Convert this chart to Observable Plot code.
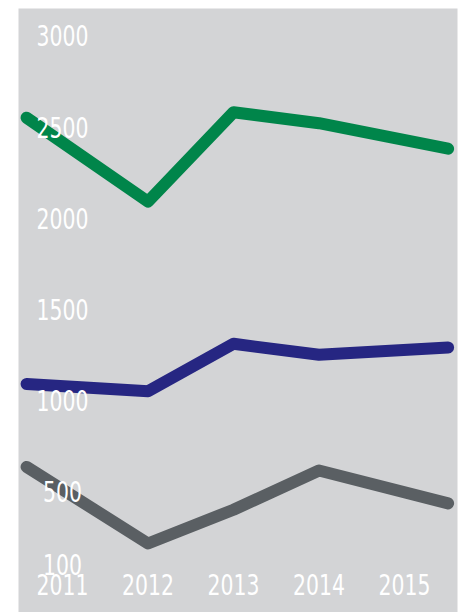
<!DOCTYPE html>
<html>
<head>
<meta charset="utf-8">
<script src="https://cdn.jsdelivr.net/npm/d3@7"></script>
<script src="https://cdn.jsdelivr.net/npm/@observablehq/plot@0.6"></script>
<style>
  html, body { margin: 0; padding: 0; background: #ffffff; }
  #chart svg { display: block; }
</style>
</head>
<body>
<div id="chart"></div>
<script>
// Tick labels
const years = [2011, 2012, 2013, 2014, 2015];
const yTicks = [3000, 2500, 2000, 1500, 1000, 500, 100];

// x positions of the line vertices (the end points run past the 2011/2015 labels)
const lineX = [2010.58, 2012, 2013, 2014, 2015.51];

// Series values
const greenSeries = [2560, 2100, 2590, 2530, 2390];
const navySeries = [1100, 1060, 1320, 1260, 1300];
const graySeries = [645, 225, 410, 625, 445];

const seriesNames = ["Series A", "Series B", "Series C"];
const seriesValues = [greenSeries, navySeries, graySeries];
const seriesColors = ["#00854a", "#262682", "#5a5f63"];

const rows = seriesNames.flatMap((name, i) =>
  seriesValues[i].map((v, j) => ({ series: name, x: lineX[j], value: v }))
);

const font = "'Liberation Sans Narrow', 'DejaVu Sans Condensed', 'Roboto', sans-serif";

const chart = Plot.plot({
  width: 460,
  height: 612,
  marginLeft: 18,
  marginRight: 3,
  marginTop: 8,
  marginBottom: 0,
  style: { fontFamily: font, background: "transparent" },
  x: { domain: [2011, 2015], range: [62, 404], axis: null },
  y: { domain: [0, 3000], range: [584, 37], axis: null },
  color: { domain: seriesNames, range: seriesColors },
  marks: [
    Plot.frame({ fill: "#d3d4d6", stroke: null }),
    Plot.line(rows, {
      x: "x",
      y: "value",
      z: "series",
      stroke: "series",
      strokeWidth: 12,
      strokeLinecap: "round",
      strokeLinejoin: "round"
    }),
    Plot.text(yTicks, {
      x: () => 2011,
      y: d => d,
      text: d => String(d),
      fill: "#ffffff",
      fontSize: 28,
      textAnchor: "middle",
      className: "tick-label"
    }),
    Plot.text(years, {
      x: d => d,
      frameAnchor: "bottom",
      dy: -18,
      text: d => String(d),
      fill: "#ffffff",
      fontSize: 28,
      textAnchor: "middle",
      className: "tick-label"
    })
  ]
});

document.getElementById("chart").appendChild(chart);

// Condense the labels horizontally to match the narrow typeface of the original
d3.select(chart).selectAll(".tick-label text").each(function () {
  const w = this.getComputedTextLength();
  this.setAttribute("textLength", (w * 0.81).toFixed(1));
  this.setAttribute("lengthAdjust", "spacingAndGlyphs");
});
</script>
</body>
</html>
